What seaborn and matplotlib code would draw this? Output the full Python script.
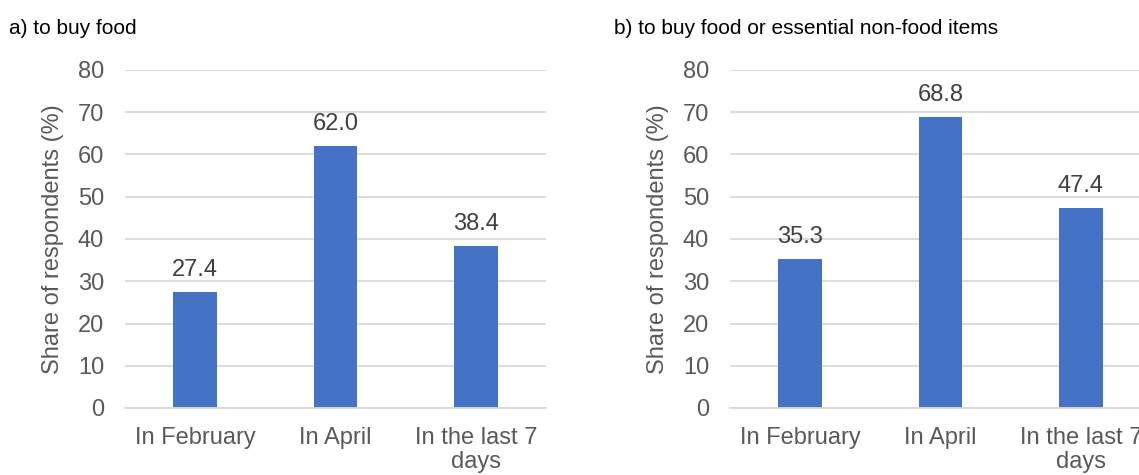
import matplotlib
matplotlib.use("Agg")
import matplotlib.pyplot as plt
import seaborn as sns
import pandas as pd

# Survey data: share of respondents in each period
periods = ["In February", "In April", "In the last 7\ndays"]
food_share = [27.4, 62.0, 38.4]
food_or_essentials_share = [35.3, 68.8, 47.4]
panel_titles = ["a) to buy food", "b) to buy food or essential non-food items"]
y_label = "Share of respondents (%)"
y_ticks = [0, 10, 20, 30, 40, 50, 60, 70, 80]

sns.set_theme(style="white")
plt.rcParams["font.family"] = ["Liberation Sans", "DejaVu Sans"]

W, H = 1139, 475
fig = plt.figure(figsize=(W / 100, H / 100), dpi=100)

BAR = "#4472C4"
GRID = "#D9D9D9"
TICK = "#595959"
LABEL = "#404040"
FS = 17

panels = [
    (125, food_share, panel_titles[0], 9),
    (730, food_or_essentials_share, panel_titles[1], 614),
]

for left_px, values, title, title_x in panels:
    ax = fig.add_axes([left_px / W, (H - 408) / H, 421 / W, 338 / H])
    df = pd.DataFrame({"period": periods, "share": values})
    sns.barplot(data=df, x="period", y="share", color=BAR, width=0.31,
                saturation=1, ax=ax, edgecolor="none")
    ax.set_xlim(-0.5, 2.5)
    ax.set_ylim(0, 80)
    ax.set_yticks(y_ticks)
    ax.set_yticklabels([str(t) for t in y_ticks])
    ax.yaxis.grid(True, color=GRID, linewidth=1.3)
    ax.set_axisbelow(True)
    for s in ["top", "right", "left"]:
        ax.spines[s].set_visible(False)
    ax.spines["bottom"].set_color(GRID)
    ax.spines["bottom"].set_linewidth(1.3)
    ax.tick_params(axis="both", length=0, labelsize=FS, labelcolor=TICK)
    ax.tick_params(axis="y", pad=15)
    ax.tick_params(axis="x", pad=14)
    ax.set_xlabel("")
    ax.set_ylabel(y_label, fontsize=FS, color=TICK, labelpad=10)
    for lbl in ax.get_xticklabels():
        lbl.set_linespacing(1.1)
    for container in ax.containers:
        ax.bar_label(container, labels=[f"{v:.1f}" for v in values],
                     padding=8, fontsize=FS, color=LABEL)
    fig.text(title_x / W, 1 - 28 / H, title, fontsize=15, color="black",
             ha="left", va="center")

fig.savefig("out.png", dpi=100, facecolor="white")
